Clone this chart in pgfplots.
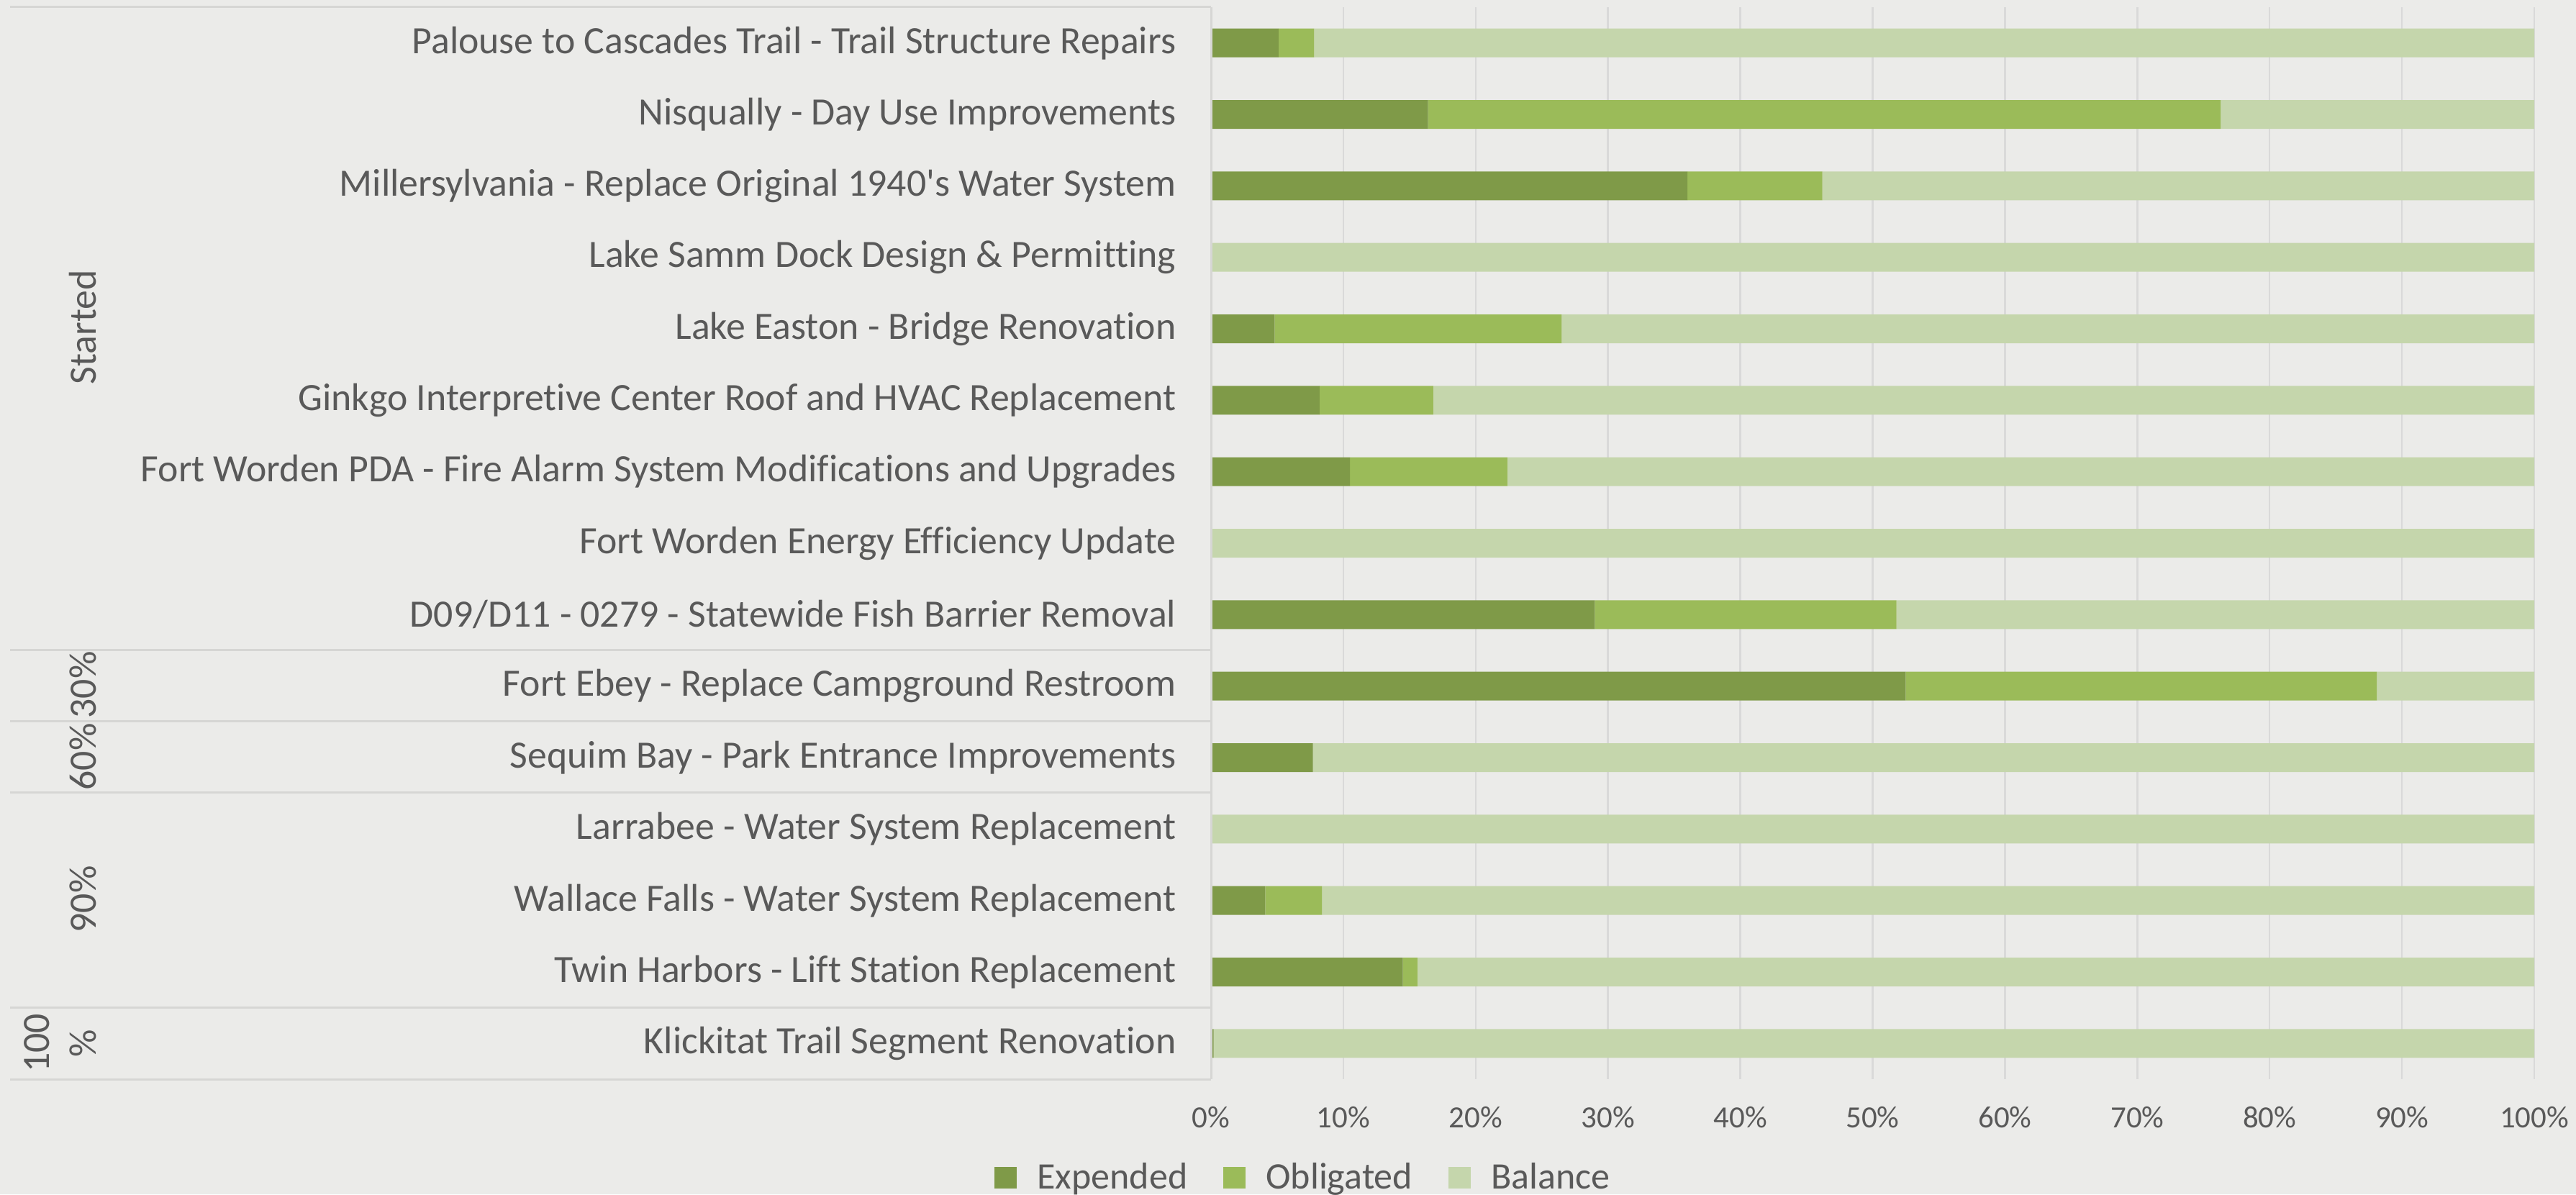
\documentclass[border=0pt]{standalone}
\usepackage{fontspec}
\setmainfont{Carlito}[Ligatures={TeXOff,NoCommon}]
\usepackage{pgfplots}
\pgfplotsset{compat=1.18}
\definecolor{bg}{HTML}{EBEBE9}
\definecolor{txt}{HTML}{595959}
\definecolor{gridc}{HTML}{D9D9D9}
\definecolor{sepc}{HTML}{D6D6D4}
\definecolor{expc}{HTML}{7F9A48}
\definecolor{oblc}{HTML}{9BBB59}
\definecolor{balc}{HTML}{C5D6AC}
\newcommand{\lblfont}{\fontsize{15.3}{17}\selectfont}
\newcommand{\legfont}{\fontsize{14.8}{17}\selectfont}
\newcommand{\tickfont}{\fontsize{12.2}{14}\selectfont}
\begin{document}
\begin{tikzpicture}[x=1cm,y=1cm]
\fill[bg] (0,0) rectangle (35.8,-16.6);
\path[use as bounding box] (0,0) rectangle (35.8,-16.6);
\foreach \yy in {0.10,9.03,10.02,11.015,14.00,15.00}
  \draw[sepc, line width=0.03cm] (0.14,-\yy) -- (16.83,-\yy);
\begin{axis}[
  at={(16.83cm,-15.00cm)}, anchor=south west,
  scale only axis, width=18.39cm, height=14.90cm,
  xbar stacked, bar width=0.40cm,
  xmin=0, xmax=100, ymin=-0.5, ymax=14.5, y dir=reverse,
  axis line style={draw=none},
  xmajorgrids, grid style={gridc, line width=0.025cm},
  major tick length=0pt,
  xtick={0,10,...,100},
  xticklabels={0\%,10\%,20\%,30\%,40\%,50\%,60\%,70\%,80\%,90\%,100\%},
  xticklabel style={font=\tickfont, text=txt, inner sep=0pt, anchor=center, yshift=-0.53cm},
  ytick={0,...,14},
  yticklabels={Palouse to Cascades Trail - Trail Structure Repairs,
    Nisqually - Day Use Improvements,
    Millersylvania - Replace Original 1940's Water System,
    Lake Samm Dock Design \& Permitting,
    Lake Easton - Bridge Renovation,
    Ginkgo Interpretive Center Roof and HVAC Replacement,
    Fort Worden PDA - Fire Alarm System Modifications and Upgrades,
    Fort Worden Energy Efficiency Update,
    D09/D11 - 0279 - Statewide Fish Barrier Removal,
    Fort Ebey - Replace Campground Restroom,
    Sequim Bay - Park Entrance Improvements,
    Larrabee - Water System Replacement,
    Wallace Falls - Water System Replacement,
    Twin Harbors - Lift Station Replacement,
    Klickitat Trail Segment Renovation},
  yticklabel style={font=\lblfont, text=txt, inner sep=0pt, anchor=east, xshift=-0.48cm},
  legend image code/.code={\fill[#1,draw=none] (0cm,-0.15cm) rectangle (0.31cm,0.15cm);},
  legend columns=3,
  legend style={at={(0.069,-0.0919)}, anchor=center, draw=none, fill=none,
    font=\legfont, text=txt, inner sep=0pt, nodes={inner sep=0pt},
    /tikz/every odd column/.append style={column sep=0.28cm},
    /tikz/every even column/.append style={column sep=0.50cm}},
]
\addplot[fill=expc, draw=none] coordinates {
 (5.1,0) (16.4,1) (36.0,2) (0,3) (4.8,4) (8.2,5) (10.5,6) (0,7)
 (29.0,8) (52.5,9) (7.7,10) (0,11) (4.1,12) (14.5,13) (0.2,14)};
\addplot[fill=oblc, draw=none] coordinates {
 (2.7,0) (59.9,1) (10.2,2) (0,3) (21.7,4) (8.6,5) (11.9,6) (0,7)
 (22.8,8) (35.6,9) (0,10) (0,11) (4.3,12) (1.1,13) (0,14)};
\addplot[fill=balc, draw=none] coordinates {
 (92.2,0) (23.7,1) (53.8,2) (100,3) (73.5,4) (83.2,5) (77.6,6) (100,7)
 (48.2,8) (11.9,9) (92.3,10) (100,11) (91.6,12) (84.4,13) (99.8,14)};
\legend{Expended,Obligated,Balance}
\end{axis}
\draw[sepc, line width=0.03cm] (16.83,-0.10) -- (16.83,-15.00);
\begin{scope}[every node/.style={rotate=90, anchor=base, font=\lblfont, text=txt, inner sep=0pt}]
\node at (1.33,-4.55) {Started};
\node at (1.33,-9.52) {30\%};
\node at (1.33,-10.52) {60\%};
\node at (1.33,-12.50) {90\%};
\node at (0.68,-14.50) {100};
\node at (1.33,-14.50) {\%};
\end{scope}
\end{tikzpicture}
\end{document}
